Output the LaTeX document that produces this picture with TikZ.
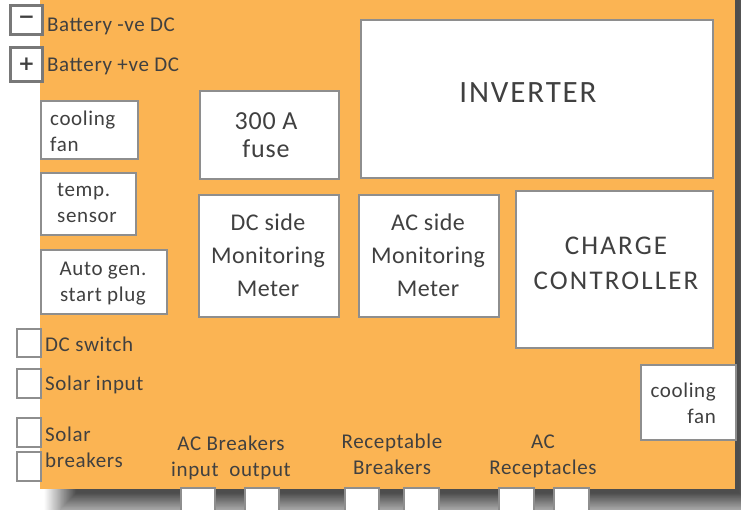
\documentclass[tikz,border=0pt]{standalone}
\usepackage{fontspec}
\setmainfont{Carlito}
\newfontfamily\symfont{DejaVu Sans}
\usetikzlibrary{shadows.blur}
\definecolor{panelor}{HTML}{FBB453}
\definecolor{edgegray}{HTML}{8E8E8E}
\definecolor{termgray}{HTML}{787878}
\definecolor{txt}{HTML}{404040}
\begin{document}
\begin{tikzpicture}[x=1pt,y=-1pt,
  box/.style={draw=edgegray, fill=white, line width=1.6pt, inner sep=0pt, anchor=north west, rectangle},
  term/.style={draw=termgray, fill=white, line width=2.8pt, inner sep=0pt, anchor=north west, rectangle},
  lbl/.style={text=txt, inner sep=0pt, font=\fontsize{21}{26}\selectfont\addfontfeature{LetterSpace=3}},
  meter/.style={text=txt, inner sep=0pt, align=center, font=\fontsize{24}{33}\selectfont\addfontfeature{LetterSpace=2}},
]
\useasboundingbox (0,0) rectangle (741,510);
% panel (extends above the visible top edge)
\node[fill=panelor, inner sep=0pt, anchor=north west, minimum width=695pt, minimum height=529pt,
  blur shadow={shadow xshift=20pt, shadow yshift=-20pt, shadow blur radius=16pt, shadow opacity=70, shadow blur steps=20}] (panel) at (40,-40) {};

% battery terminals
\node[term, minimum width=32pt, minimum height=29pt] (neg) at (9,4) {};
\node[term, minimum width=32pt, minimum height=34pt] (pos) at (9,46) {};
\node[text=txt, inner sep=0pt, font=\symfont\bfseries\fontsize{20}{20}\selectfont] (negs) at (neg.center) {−};
\node[text=txt, inner sep=0pt, font=\symfont\bfseries\fontsize{20}{20}\selectfont] (poss) at (pos.center) {+};
\node[lbl, anchor=base west] (negt) at (47,32) {Battery -ve DC};
\node[lbl, anchor=base west] (post) at (47,72) {Battery +ve DC};

% left column boxes
\node[box, minimum width=97pt, minimum height=58pt] (fan1) at (40,100) {};
\node[lbl, anchor=base west, align=left] (fan1t) at (50,152) {cooling\\fan};
\node[box, minimum width=95pt, minimum height=62pt] (temp) at (40,172) {};
\node[lbl, anchor=base west, align=left] (tempt) at (57,223) {temp.\\sensor};
\node[box, minimum width=126pt, minimum height=64pt] (auto) at (40,249) {};
\node[lbl, anchor=base, align=center] (autot) at (103,302) {Auto gen.\\start plug};

% small left switches
\node[box, minimum width=24pt, minimum height=28pt] (dcsw) at (16,328) {};
\node[box, minimum width=24pt, minimum height=29pt] (solin) at (16,368) {};
\node[box, minimum width=24pt, minimum height=29pt] (sb1) at (16,417) {};
\node[box, minimum width=24pt, minimum height=29pt] (sb2) at (16,451) {};
\node[lbl, anchor=base west] (dcswt) at (45,352) {DC switch};
\node[lbl, anchor=base west] (solint) at (45,390) {Solar input};
\node[lbl, anchor=base west, align=left] (sbt) at (45,467) {Solar\\breakers};

% fuse and meters
\node[box, minimum width=139pt, minimum height=88pt] (fuse) at (199,90) {};
\node[text=txt, inner sep=0pt, align=center, anchor=base, font=\fontsize{26}{28}\selectfont\addfontfeature{LetterSpace=3}] (fuset) at (266,158) {300 A\\fuse};
\node[box, minimum width=140pt, minimum height=122pt] (dcm) at (198,194) {};
\node[meter, anchor=base] (dcmt) at (268,297) {DC side\\Monitoring\\Meter};
\node[box, minimum width=140pt, minimum height=122pt] (acm) at (358,194) {};
\node[meter, anchor=base] (acmt) at (428,297) {AC side\\Monitoring\\Meter};

% inverter and charge controller
\node[box, minimum width=352pt, minimum height=158pt] (inv) at (360,19) {};
\node[text=txt, inner sep=0pt, anchor=base, font=\fontsize{31}{31}\selectfont\addfontfeature{LetterSpace=6}] (invt) at (528,103) {INVERTER};
\node[box, minimum width=197pt, minimum height=157pt] (cc) at (515,190) {};
\node[text=txt, inner sep=0pt, align=center, anchor=base, font=\fontsize{27}{35}\selectfont\addfontfeature{LetterSpace=8}] (cct) at (616,290) {CHARGE\\CONTROLLER};

% right cooling fan
\node[box, minimum width=95pt, minimum height=75pt] (fan2) at (640,364) {};
\node[lbl, anchor=base east, align=right] (fan2t) at (716,423) {cooling\\fan};

% bottom labels
\node[lbl, anchor=base, align=center] (acbt) at (231,476) {AC Breakers\\input\ \ output};
\node[lbl, anchor=base, align=center] (rbt) at (392,474) {Receptable\\Breakers};
\node[lbl, anchor=base, align=center] (acrt) at (543,474) {AC\\Receptacles};

% bottom connectors
\node[box, minimum width=34pt, minimum height=30pt] (acin) at (180,487) {};
\node[box, minimum width=34pt, minimum height=30pt] (acout) at (244,487) {};
\node[box, minimum width=34pt, minimum height=30pt] (rb1) at (344,487) {};
\node[box, minimum width=35pt, minimum height=30pt] (rb2) at (403,487) {};
\node[box, minimum width=35pt, minimum height=30pt] (acr1) at (498,487) {};
\node[box, minimum width=35pt, minimum height=30pt] (acr2) at (553,487) {};
\end{tikzpicture}
\end{document}
